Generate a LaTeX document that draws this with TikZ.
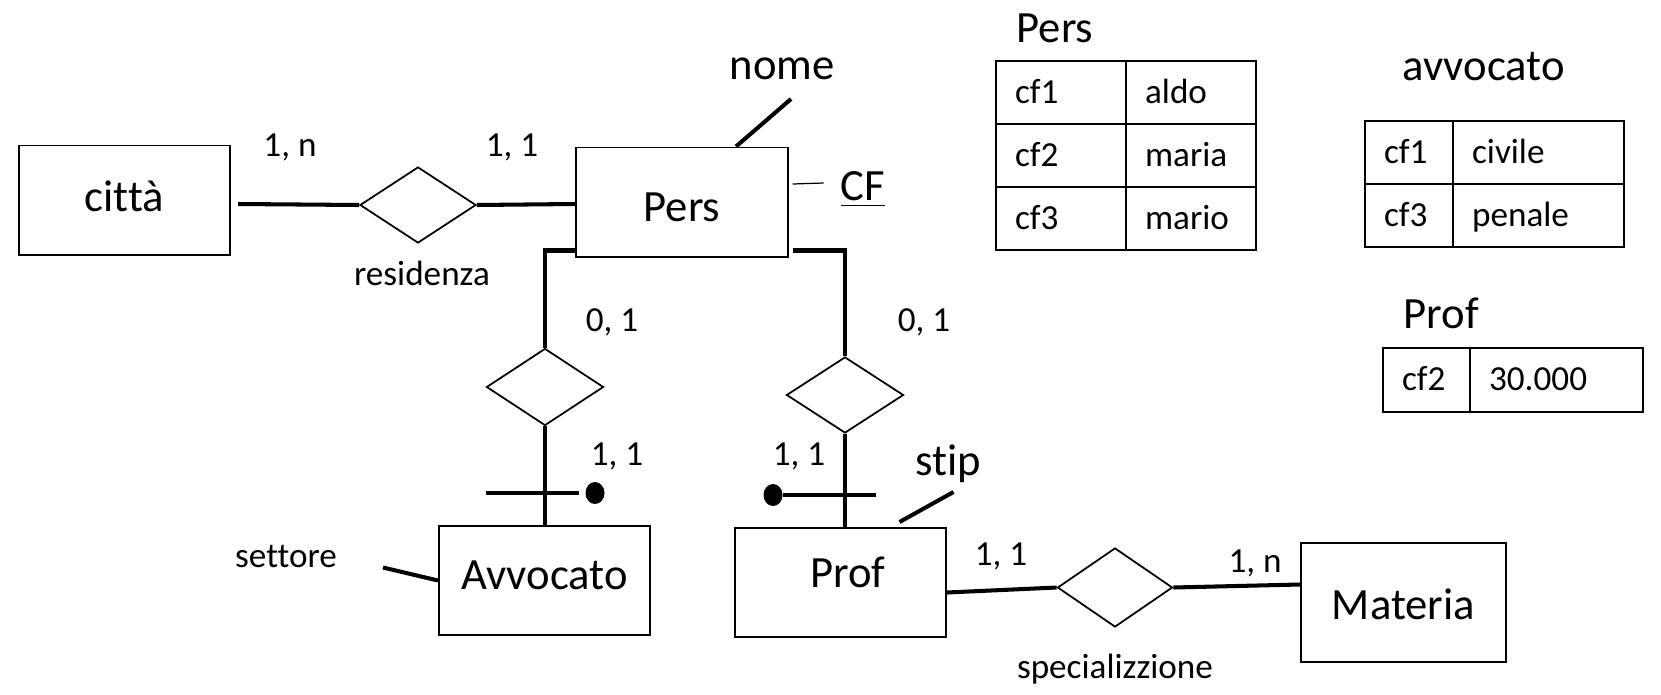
\documentclass[tikz,border=0pt]{standalone}
\usepackage{fontspec}
\setmainfont{Carlito}[Ligatures=NoCommon]
\usepackage{tikz}
\usetikzlibrary{positioning,shapes.geometric}
\newcommand{\testoGrande}{\fontsize{12.7}{15}\selectfont}
\newcommand{\testoPiccolo}{\fontsize{10}{12}\selectfont}

\begin{document}
\begin{tikzpicture}[
  x=0.01cm, y=-0.01cm,
  entita/.style={
    rectangle, draw, line width=0.55pt,
    minimum width=2.11cm, minimum height=1.09cm,
    inner sep=0pt, text depth=0pt, font=\testoGrande
  },
  relazione/.style={
    diamond, draw, line width=0.5pt,
    minimum width=1.17cm, minimum height=0.77cm, inner sep=0pt
  },
  linea/.style={line width=1.15pt},
  card/.style={anchor=base, inner sep=0pt, font=\testoPiccolo},
  etichetta/.style={anchor=base, inner sep=0pt, font=\testoGrande},
  cella/.style={
    rectangle, draw, line width=0.6pt, outer sep=0pt,
    minimum height=0.63cm, inner xsep=0.19cm, inner ysep=0pt,
    text width=#1, align=left, text height=0.21cm, text depth=0pt,
    font=\testoPiccolo
  },
  punto/.style={ellipse, fill, inner sep=0pt, minimum width=0.19cm, minimum height=0.22cm}
]
  \useasboundingbox (0,0) rectangle (1661,694);

  % entita
  \node[entita, text height=0.22cm] (citta) at (124.5,200) {città};
  \node[entita, text height=0.38cm] (pers) at (682,202) {Pers};
  \node[entita, text height=0.17cm] (avv) at (544.5,580.5) {Avvocato};
  \node[entita, text height=0.09cm] (prof) at (840.5,582.5) {\hspace*{0.15cm}Prof};
  \node[entita, minimum width=2.05cm, minimum height=1.19cm, text height=0.33cm] (materia) at (1403.5,602.5) {Materia};

  % relazioni
  \node[relazione, minimum width=1.16cm, minimum height=0.76cm] (residenza) at (418,205) {};
  \node[relazione] (isaAvv) at (545,387) {};
  \node[relazione, minimum height=0.76cm] (isaProf) at (845,395) {};
  \node[relazione, minimum width=1.15cm, minimum height=0.79cm] (spec) at (1115,587.5) {};

  % collegamenti
  \draw[linea] ([shift={(7,4)}]citta.east) -- (residenza.west);
  \draw[linea] (residenza.east) -- ([shift={(0,2)}]pers.west);
  \draw[linea] ([shift={(0,-7)}]pers.south west) -| (isaAvv.north);
  \draw[linea] ([shift={(4,-7)}]pers.south east) -| (isaProf.north);
  \draw[linea] (isaAvv.south) -- (isaAvv.south |- avv.north);
  \draw[linea] (isaProf.south) -- (isaProf.south |- prof.north);
  \draw[linea] ([shift={(0,10)}]prof.east) -- (spec.west);
  \draw[linea] (spec.east) -- ([shift={(0,-18)}]materia.west);

  % identificatori esterni
  \node[punto] (puntoAvv) at (595,493) {};
  \node[punto] (puntoProf) at (773,495) {};
  \draw[linea] ([shift={(-6,0)}]puntoAvv.west) -- ++(-93,0);
  \draw[linea] (puntoProf.east) -- ++(93,0);

  % attributi
  \node[etichetta] (nome) at (782,79) {nome};
  \draw[linea] ([shift={(54,0)}]pers.north) -- ([shift={(9,19)}]nome.south);
  \node[etichetta] (cf) at (863,200) {\underline{CF}};
  \draw[line width=0.35pt] ([shift={(4,-18)}]pers.east) -- ++(31,-1);
  \node[etichetta] (stip) at (948,475) {stip};
  \draw[linea] ([shift={(59,-5)}]prof.north) -- ++(54,-30);
  \node[card] (settore) at (286,567) {settore};
  \draw[linea] ([shift={(-55,-13)}]avv.west) -- (avv.west);

  % cardinalita
  \node[card] (cResCitta) at (290,156) {1, n};
  \node[card] (cResPers) at (512,156) {1, 1};
  \node[card] (cResLabel) at (422,285) {residenza};
  \node[card] (cAvvPers) at (612,331) {0, 1};
  \node[card] (cProfPers) at (924,331) {0, 1};
  \node[card] (cAvv) at (617,465) {1, 1};
  \node[card] (cProf) at (799,465) {1, 1};
  \node[card] (cSpecProf) at (1001,565) {1, 1};
  \node[card] (cSpecMat) at (1255,572) {1, n};
  \node[card] (cSpecLabel) at (1115,678) {specializzione};

  % tabella Pers
  \node[etichetta, anchor=base west] (titoloPers) at (1016,42) {Pers};
  \node[cella=0.92cm, anchor=north west] (p11) at (996,61) {cf1};
  \node[cella=0.92cm, right=0pt of p11] (p12) {aldo};
  \node[cella=0.92cm, below=0pt of p11] (p21) {cf2};
  \node[cella=0.92cm, right=0pt of p21] (p22) {maria};
  \node[cella=0.92cm, below=0pt of p21] (p31) {cf3};
  \node[cella=0.92cm, right=0pt of p31] (p32) {mario};

  % tabella avvocato
  \node[etichetta, anchor=base west] (titoloAvv) at (1402,80) {avvocato};
  \node[cella=0.50cm, anchor=north west] (a11) at (1365,121) {cf1};
  \node[cella=1.33cm, right=0pt of a11] (a12) {civile};
  \node[cella=0.50cm, below=0pt of a11] (a21) {cf3};
  \node[cella=1.33cm, right=0pt of a21] (a22) {penale};

  % tabella Prof
  \node[etichetta, anchor=base west] (titoloProf) at (1403,328) {Prof};
  \node[cella=0.49cm, anchor=north west, minimum height=0.64cm] (f11) at (1383,348) {cf2};
  \node[cella=1.35cm, minimum height=0.64cm, right=0pt of f11] (f12) {30.000};

\end{tikzpicture}
\end{document}
